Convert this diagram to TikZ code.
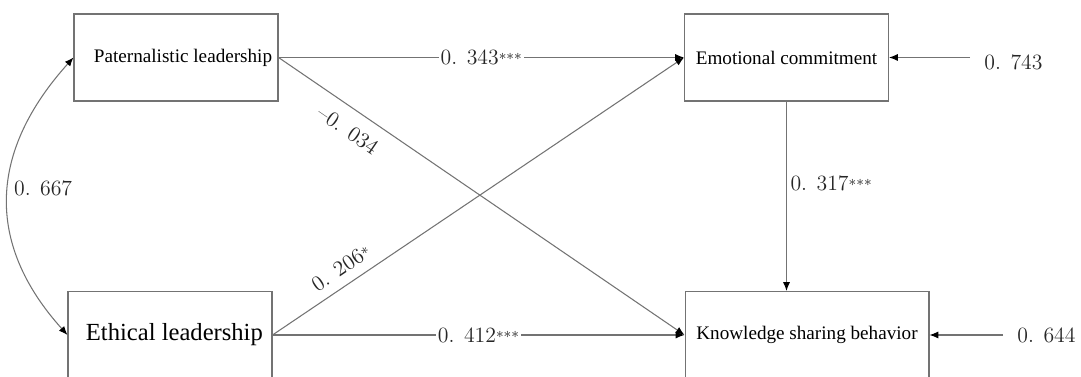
\documentclass[tikz,border=0pt]{standalone}
\usepackage{fontspec}
\newfontfamily\boxfont{Liberation Serif}
\usetikzlibrary{arrows.meta}
\newcommand\stars[1]{{\fontsize{8.5}{8.5}\selectfont#1}}

\begin{document}
\begin{tikzpicture}[x=.02cm,y=.02cm,>={Latex[length=5pt,width=4pt,color=black]},
  var/.style={draw=black!55,line width=.6pt,minimum width=4.08cm,minimum height=1.74cm,inner sep=0pt,font=\boxfont\fontsize{10.9}{12}\selectfont},
  coef/.style={font=\fontsize{12.4}{14}\selectfont,text=black!85},
  arr/.style={draw=black!55,line width=.6pt,->}]
\useasboundingbox(0,0)rectangle(1081,377);
% variables
\node[var](pl)at(176,319.5){\hspace{8pt}Paternalistic leadership};
\node[var](ec)at(786.5,319.5){Emotional commitment};
\node[var,font=\boxfont\fontsize{14}{16}\selectfont](el)at(170,42){\hspace{5pt}Ethical leadership};
\node[var,minimum width=4.88cm](ksb)at(807,42){Knowledge sharing behavior};
% paths
\draw[arr](pl.east)--node[coef,fill=white,inner sep=1pt]{0. 343\stars{***}}(ec.west);
\draw[arr](pl.east)--node[coef,sloped,below=4pt,pos=.2]{--0. 034}(ksb.west);
\draw[arr](el.east)--node[coef,sloped,above=2pt,pos=.19]{0. 206\stars{*}}(ec.west);
\draw[arr](el.east)--node[coef,fill=white,inner sep=1pt]{0. 412\stars{***}}(ksb.west);
\draw[arr](ec.south)--node[coef,right,pos=.43,inner sep=2pt]{0. 317\stars{***}}(ec.south|-ksb.north);
\draw[draw=black!55,line width=.6pt,<->](pl.west)to[out=228,in=132,looseness=1.15]node[coef,right,pos=.47,inner sep=3pt]{0. 667}(el.west);
% residuals
\coordinate(e1)at(970,319.5);\coordinate(e2)at(1003,42);
\draw[arr](e1)--(ec.east);\draw[arr](e2)--(ksb.east);
\node[coef](r1)at(1013.5,315){0. 743};
\node[coef](r2)at(1046.5,42){0. 644};
\end{tikzpicture}
\end{document}
